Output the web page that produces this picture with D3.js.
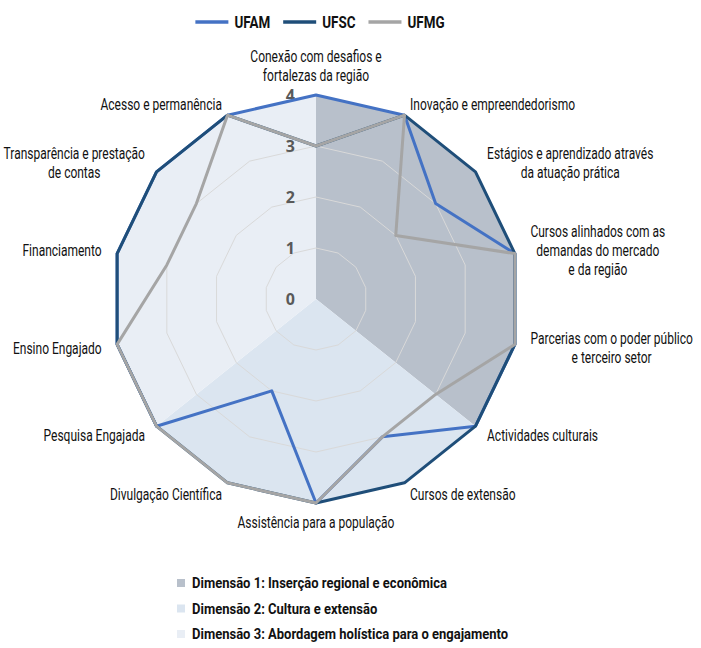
<!DOCTYPE html>
<html>
<head>
<meta charset="utf-8">
<script src="https://cdn.jsdelivr.net/npm/d3@7"></script>
<style>
  body { margin: 0; background: #fff; }
  svg text { font-family: Roboto, "DejaVu Sans Condensed", sans-serif; fill: #111; }
</style>
</head>
<body>
<div id="chart"></div>
<script>
'use strict'

// categories, clockwise from the top ("\n" = line break)
const categories = [
  'Conexão com desafios e\nfortalezas da região',
  'Inovação e empreendedorismo',
  'Estágios e aprendizado através\nda atuação prática',
  'Cursos alinhados com as\ndemandas do mercado\ne da região',
  'Parcerias com o poder público\ne terceiro setor',
  'Actividades culturais',
  'Cursos de extensão',
  'Assistência para a população',
  'Divulgação Científica',
  'Pesquisa Engajada',
  'Ensino Engajado',
  'Financiamento',
  'Transparência e prestação\nde contas',
  'Acesso e permanência'
]

// series (drawn in this order, last on top)
const seriesNames = ['UFAM', 'UFSC', 'UFMG']
const ufam = [4, 4, 3, 4, 4, 4, 3, 4, 2, 4, 4, 4, 4, 4]
const ufsc = [3, 4, 4, 4, 4, 4, 4, 4, 4, 4, 4, 4, 4, 4]
const ufmg = [3, 4, 2, 4, 4, 3, 3, 4, 4, 4, 4, 3, 3, 4]
const seriesValues = [ufam, ufsc, ufmg]

// axis ticks
const ticks = [0, 1, 2, 3, 4]

// background dimensions: first and last category index of each sector
const dimNames = [
  'Dimensão 1: Inserção regional e econômica',
  'Dimensão 2: Cultura e extensão',
  'Dimensão 3: Abordagem holística para o engajamento'
]
const dimStart = [0, 5, 9]
const dimEnd = [5, 9, 14]

////////////////////////////////////
//////////// svg setup /////////////
////////////////////////////////////

const svgWidth = 701
const svgHeight = 648
const cx = 316
const cy = 299
const R = 204
const squeeze = 0.75      // condensed look for the category labels
const squeezeBold = 0.84  // and for the legends

const lineColors = ['#4472c4', '#1f4e79', '#a5a5a5']
const dimColors = ['#b8c0cb', '#dbe5f0', '#e9eef5']

const svg = d3.select('#chart').append('svg')
  .attr('width', svgWidth)
  .attr('height', svgHeight)

const g = svg.append('g').attr('transform', `translate(${cx},${cy})`)

const n = categories.length
const angle = d3.scaleLinear().domain([0, n]).range([0, 2 * Math.PI])
const radius = d3.scaleLinear().domain([0, 4]).range([0, R])

const radial = d3.lineRadial()
  .angle(d => d[0])
  .radius(d => d[1])
  .curve(d3.curveLinearClosed)

// dimension sectors
dimNames.forEach((name, k) => {
  const pts = [[0, 0]]
  for (let i = dimStart[k]; i <= dimEnd[k]; i++) pts.push([angle(i), radius(4)])
  g.append('path')
    .attr('d', radial(pts))
    .attr('fill', dimColors[k])
})

// grid rings
ticks.filter(t => t > 0).forEach(t => {
  g.append('path')
    .attr('d', radial(d3.range(n).map(i => [angle(i), radius(t)])))
    .attr('fill', 'none')
    .attr('stroke', '#d9d9d9')
    .attr('stroke-width', 1)
})

// tick labels
g.selectAll('.tick-label')
  .data(ticks)
  .join('text')
  .attr('class', 'tick-label')
  .attr('x', -21)
  .attr('y', d => -radius(d))
  .attr('dy', '0.4em')
  .attr('text-anchor', 'end')
  .style('font-family', '"Open Sans", sans-serif')
  .style('font-weight', 'bold')
  .style('font-size', '16px')
  .style('fill', '#595959')
  .text(d => d)

// series lines
seriesValues.forEach((vals, k) => {
  g.append('path')
    .attr('d', radial(vals.map((v, i) => [angle(i), radius(v)])))
    .attr('fill', 'none')
    .attr('stroke', lineColors[k])
    .attr('stroke-width', 3)
    .attr('stroke-linejoin', 'round')
})

// category labels
const lh = 19
categories.forEach((label, i) => {
  const a = angle(i)
  const s = Math.sin(a)
  const c = Math.cos(a)
  const pad = 10 + 6 * Math.abs(s)
  const px = (R + pad) * s
  const py = -(R + pad) * c
  const lines = label.split('\n')
  const t = g.append('text').style('font-size', '16px').attr('text-anchor', 'middle')
  lines.forEach((ln, j) => {
    t.append('tspan').attr('x', 0).attr('y', j * lh).attr('dominant-baseline', 'central').text(ln)
  })
  const w = t.node().getBBox().width * squeeze
  const h = lines.length * lh
  let x = px
  if (Math.abs(s) > 0.05) x = s > 0 ? px + w / 2 : px - w / 2
  let top
  if (Math.abs(s) <= 0.05) top = c > 0 ? py - h : py
  else top = py - h / 2
  t.attr('transform', `translate(${x},${top + lh / 2}) scale(${squeeze},1)`)
})

// top legend
const topLegend = svg.append('g')
let lx = 0
seriesNames.forEach((name, k) => {
  topLegend.append('line')
    .attr('x1', lx).attr('x2', lx + 33)
    .attr('y1', 0).attr('y2', 0)
    .attr('stroke', lineColors[k])
    .attr('stroke-width', 3.5)
  const t = topLegend.append('text')
    .attr('transform', `translate(${lx + 39},0) scale(${squeezeBold},1)`)
    .attr('dy', '0.35em')
    .style('font-size', '16px')
    .style('font-weight', 'bold')
    .text(name)
  lx += 39 + t.node().getComputedTextLength() * squeezeBold + 13
})
topLegend.attr('transform', `translate(${320 - (lx - 13) / 2},22)`)

// bottom legend
const dimLegend = svg.append('g').attr('transform', 'translate(177,583)')
dimNames.forEach((name, k) => {
  dimLegend.append('rect')
    .attr('x', 0).attr('y', k * 25.5 - 4)
    .attr('width', 8).attr('height', 8)
    .attr('fill', dimColors[k])
  dimLegend.append('text')
    .attr('transform', `translate(15,${k * 25.5}) scale(${squeezeBold},1)`)
    .attr('dy', '0.35em')
    .style('font-size', '15.5px')
    .style('font-weight', 'bold')
    .text(name)
})
</script>
</body>
</html>
